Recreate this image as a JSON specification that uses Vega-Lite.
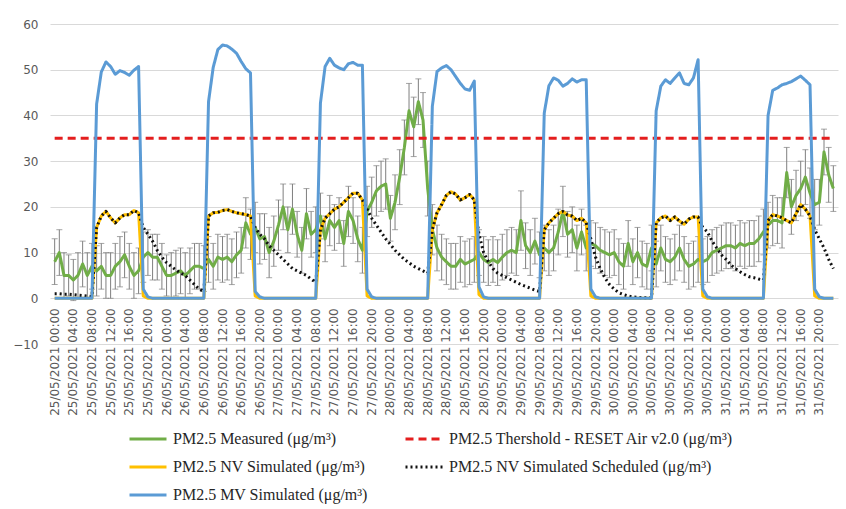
{
"$schema": "https://vega.github.io/schema/vega-lite/v6.json",
"width": 788, "height": 320,
"autosize": {"type": "none"},
"padding": {"left": 50, "top": 24, "right": 8, "bottom": 165},
"background": "white",
"config": {"view": {"stroke": null}, "font": "DejaVu Sans"},
"data": {"values": [
{"t":"2021-05-25T00:00:00Z","measured":8,"lo":3,"hi":13,"nv":0,"nvs":1,"mv":0,"threshold":35},
{"t":"2021-05-25T01:00:00Z","measured":10,"lo":5,"hi":15,"nv":0,"nvs":1,"mv":0,"threshold":35},
{"t":"2021-05-25T02:00:00Z","measured":5,"lo":0,"hi":10,"nv":0,"nvs":0.9,"mv":0,"threshold":35},
{"t":"2021-05-25T03:00:00Z","measured":5,"lo":0.5,"hi":9.5,"nv":0,"nvs":0.9,"mv":0,"threshold":35},
{"t":"2021-05-25T04:00:00Z","measured":4,"lo":-0.5,"hi":8.5,"nv":0,"nvs":0.8,"mv":0,"threshold":35},
{"t":"2021-05-25T05:00:00Z","measured":5,"lo":0,"hi":10,"nv":0,"nvs":0.7,"mv":0,"threshold":35},
{"t":"2021-05-25T06:00:00Z","measured":7.5,"lo":2.5,"hi":12.5,"nv":0,"nvs":0.6,"mv":0,"threshold":35},
{"t":"2021-05-25T07:00:00Z","measured":5,"lo":0,"hi":10,"nv":0,"nvs":0.5,"mv":0,"threshold":35},
{"t":"2021-05-25T08:00:00Z","measured":7,"lo":2,"hi":12,"nv":0,"nvs":0.4,"mv":0,"threshold":35},
{"t":"2021-05-25T09:00:00Z","measured":6,"lo":0.5,"hi":11.5,"nv":15.5,"nvs":15.5,"mv":42.5,"threshold":35},
{"t":"2021-05-25T10:00:00Z","measured":7,"lo":2,"hi":12,"nv":18,"nvs":18,"mv":49.5,"threshold":35},
{"t":"2021-05-25T11:00:00Z","measured":5,"lo":0,"hi":10,"nv":19,"nvs":19,"mv":51.7,"threshold":35},
{"t":"2021-05-25T12:00:00Z","measured":5,"lo":0,"hi":10,"nv":17.6,"nvs":17.6,"mv":50.7,"threshold":35},
{"t":"2021-05-25T13:00:00Z","measured":7,"lo":2,"hi":12,"nv":16.5,"nvs":16.5,"mv":49,"threshold":35},
{"t":"2021-05-25T14:00:00Z","measured":8,"lo":2.5,"hi":13.5,"nv":17.6,"nvs":17.6,"mv":49.8,"threshold":35},
{"t":"2021-05-25T15:00:00Z","measured":9.5,"lo":4.5,"hi":14.5,"nv":18.3,"nvs":18.3,"mv":49.4,"threshold":35},
{"t":"2021-05-25T16:00:00Z","measured":7,"lo":2,"hi":12,"nv":18.3,"nvs":18.3,"mv":48.8,"threshold":35},
{"t":"2021-05-25T17:00:00Z","measured":5,"lo":0,"hi":10,"nv":19.2,"nvs":19.2,"mv":49.9,"threshold":35},
{"t":"2021-05-25T18:00:00Z","measured":6,"lo":1,"hi":11,"nv":18.7,"nvs":18.7,"mv":50.7,"threshold":35},
{"t":"2021-05-25T19:00:00Z","measured":9,"lo":3.5,"hi":14.5,"nv":0.5,"nvs":15.5,"mv":2,"threshold":35},
{"t":"2021-05-25T20:00:00Z","measured":10,"lo":5,"hi":15,"nv":0,"nvs":14,"mv":0.3,"threshold":35},
{"t":"2021-05-25T21:00:00Z","measured":9,"lo":4,"hi":14,"nv":0,"nvs":12.5,"mv":0,"threshold":35},
{"t":"2021-05-25T22:00:00Z","measured":9,"lo":4,"hi":14,"nv":0,"nvs":10.5,"mv":0,"threshold":35},
{"t":"2021-05-25T23:00:00Z","measured":7,"lo":2,"hi":12,"nv":0,"nvs":9,"mv":0,"threshold":35},
{"t":"2021-05-26T00:00:00Z","measured":5,"lo":0.5,"hi":9.5,"nv":0,"nvs":7.8,"mv":0,"threshold":35},
{"t":"2021-05-26T01:00:00Z","measured":5,"lo":0,"hi":10,"nv":0,"nvs":7,"mv":0,"threshold":35},
{"t":"2021-05-26T02:00:00Z","measured":5.5,"lo":0.5,"hi":10.5,"nv":0,"nvs":6.2,"mv":0,"threshold":35},
{"t":"2021-05-26T03:00:00Z","measured":6,"lo":1,"hi":11,"nv":0,"nvs":5.5,"mv":0,"threshold":35},
{"t":"2021-05-26T04:00:00Z","measured":5,"lo":0,"hi":10,"nv":0,"nvs":5,"mv":0,"threshold":35},
{"t":"2021-05-26T05:00:00Z","measured":6,"lo":1,"hi":11,"nv":0,"nvs":4,"mv":0,"threshold":35},
{"t":"2021-05-26T06:00:00Z","measured":7,"lo":2,"hi":12,"nv":0,"nvs":3,"mv":0,"threshold":35},
{"t":"2021-05-26T07:00:00Z","measured":7,"lo":2,"hi":12,"nv":0,"nvs":2,"mv":0,"threshold":35},
{"t":"2021-05-26T08:00:00Z","measured":6.5,"lo":1.5,"hi":11.5,"nv":0,"nvs":1.5,"mv":0,"threshold":35},
{"t":"2021-05-26T09:00:00Z","measured":8.5,"lo":3.5,"hi":13.5,"nv":18,"nvs":18,"mv":43,"threshold":35},
{"t":"2021-05-26T10:00:00Z","measured":7,"lo":2,"hi":12,"nv":18.7,"nvs":18.7,"mv":50.5,"threshold":35},
{"t":"2021-05-26T11:00:00Z","measured":9,"lo":4,"hi":14,"nv":18.8,"nvs":18.8,"mv":54.4,"threshold":35},
{"t":"2021-05-26T12:00:00Z","measured":8.5,"lo":3.5,"hi":13.5,"nv":19.2,"nvs":19.2,"mv":55.4,"threshold":35},
{"t":"2021-05-26T13:00:00Z","measured":9,"lo":4,"hi":14,"nv":19.4,"nvs":19.4,"mv":55.2,"threshold":35},
{"t":"2021-05-26T14:00:00Z","measured":8,"lo":3,"hi":13,"nv":19,"nvs":19,"mv":54.5,"threshold":35},
{"t":"2021-05-26T15:00:00Z","measured":9.5,"lo":4.5,"hi":14.5,"nv":18.7,"nvs":18.7,"mv":53.6,"threshold":35},
{"t":"2021-05-26T16:00:00Z","measured":10.5,"lo":5.5,"hi":15.5,"nv":18.5,"nvs":18.5,"mv":51.8,"threshold":35},
{"t":"2021-05-26T17:00:00Z","measured":16.5,"lo":11,"hi":22,"nv":18.3,"nvs":18.3,"mv":50.2,"threshold":35},
{"t":"2021-05-26T18:00:00Z","measured":14,"lo":8.5,"hi":19.5,"nv":18,"nvs":18,"mv":49.3,"threshold":35},
{"t":"2021-05-26T19:00:00Z","measured":15.5,"lo":10,"hi":21,"nv":0.5,"nvs":15.5,"mv":1.5,"threshold":35},
{"t":"2021-05-26T20:00:00Z","measured":13,"lo":7.5,"hi":18.5,"nv":0,"nvs":14,"mv":0.3,"threshold":35},
{"t":"2021-05-26T21:00:00Z","measured":13.5,"lo":8.5,"hi":18.5,"nv":0,"nvs":13,"mv":0,"threshold":35},
{"t":"2021-05-26T22:00:00Z","measured":10,"lo":4.5,"hi":15.5,"nv":0,"nvs":11.5,"mv":0,"threshold":35},
{"t":"2021-05-26T23:00:00Z","measured":12.5,"lo":7,"hi":18,"nv":0,"nvs":10.5,"mv":0,"threshold":35},
{"t":"2021-05-27T00:00:00Z","measured":16,"lo":10.5,"hi":21.5,"nv":0,"nvs":9.5,"mv":0,"threshold":35},
{"t":"2021-05-27T01:00:00Z","measured":20,"lo":15,"hi":25,"nv":0,"nvs":8.5,"mv":0,"threshold":35},
{"t":"2021-05-27T02:00:00Z","measured":15,"lo":10,"hi":20,"nv":0,"nvs":7.5,"mv":0,"threshold":35},
{"t":"2021-05-27T03:00:00Z","measured":19.5,"lo":14,"hi":25,"nv":0,"nvs":6.5,"mv":0,"threshold":35},
{"t":"2021-05-27T04:00:00Z","measured":14,"lo":9,"hi":19,"nv":0,"nvs":6,"mv":0,"threshold":35},
{"t":"2021-05-27T05:00:00Z","measured":10.5,"lo":5.5,"hi":15.5,"nv":0,"nvs":5.5,"mv":0,"threshold":35},
{"t":"2021-05-27T06:00:00Z","measured":18.5,"lo":13,"hi":24,"nv":0,"nvs":5,"mv":0,"threshold":35},
{"t":"2021-05-27T07:00:00Z","measured":14,"lo":9,"hi":19,"nv":0,"nvs":4.2,"mv":0,"threshold":35},
{"t":"2021-05-27T08:00:00Z","measured":15,"lo":10,"hi":20,"nv":0,"nvs":3.5,"mv":0,"threshold":35},
{"t":"2021-05-27T09:00:00Z","measured":18,"lo":13,"hi":23,"nv":15,"nvs":15,"mv":42.7,"threshold":35},
{"t":"2021-05-27T10:00:00Z","measured":13,"lo":8,"hi":18,"nv":17.5,"nvs":17.5,"mv":50.7,"threshold":35},
{"t":"2021-05-27T11:00:00Z","measured":17,"lo":11.5,"hi":22.5,"nv":18.5,"nvs":18.5,"mv":52.5,"threshold":35},
{"t":"2021-05-27T12:00:00Z","measured":15.5,"lo":10.5,"hi":20.5,"nv":19.5,"nvs":19.5,"mv":51,"threshold":35},
{"t":"2021-05-27T13:00:00Z","measured":17,"lo":12,"hi":22,"nv":20,"nvs":20,"mv":50.4,"threshold":35},
{"t":"2021-05-27T14:00:00Z","measured":12,"lo":7,"hi":17,"nv":21,"nvs":21,"mv":50,"threshold":35},
{"t":"2021-05-27T15:00:00Z","measured":19,"lo":13.5,"hi":24.5,"nv":22,"nvs":22,"mv":51.3,"threshold":35},
{"t":"2021-05-27T16:00:00Z","measured":17,"lo":12,"hi":22,"nv":23,"nvs":23,"mv":51.6,"threshold":35},
{"t":"2021-05-27T17:00:00Z","measured":13,"lo":8,"hi":18,"nv":23,"nvs":23,"mv":51,"threshold":35},
{"t":"2021-05-27T18:00:00Z","measured":10.5,"lo":5.5,"hi":15.5,"nv":21.5,"nvs":21.5,"mv":51,"threshold":35},
{"t":"2021-05-27T19:00:00Z","measured":19,"lo":13.5,"hi":24.5,"nv":0.5,"nvs":19.5,"mv":2,"threshold":35},
{"t":"2021-05-27T20:00:00Z","measured":21,"lo":15.5,"hi":26.5,"nv":0,"nvs":17.5,"mv":0.3,"threshold":35},
{"t":"2021-05-27T21:00:00Z","measured":23.5,"lo":18,"hi":29,"nv":0,"nvs":16,"mv":0,"threshold":35},
{"t":"2021-05-27T22:00:00Z","measured":24.5,"lo":19,"hi":30,"nv":0,"nvs":14.5,"mv":0,"threshold":35},
{"t":"2021-05-27T23:00:00Z","measured":25,"lo":19.5,"hi":30.5,"nv":0,"nvs":13,"mv":0,"threshold":35},
{"t":"2021-05-28T00:00:00Z","measured":17.5,"lo":12.5,"hi":22.5,"nv":0,"nvs":11.8,"mv":0,"threshold":35},
{"t":"2021-05-28T01:00:00Z","measured":21,"lo":15,"hi":27,"nv":0,"nvs":10.5,"mv":0,"threshold":35},
{"t":"2021-05-28T02:00:00Z","measured":26.5,"lo":20.5,"hi":32.5,"nv":0,"nvs":9.5,"mv":0,"threshold":35},
{"t":"2021-05-28T03:00:00Z","measured":33,"lo":27,"hi":39,"nv":0,"nvs":8.5,"mv":0,"threshold":35},
{"t":"2021-05-28T04:00:00Z","measured":41,"lo":35,"hi":47,"nv":0,"nvs":7.8,"mv":0,"threshold":35},
{"t":"2021-05-28T05:00:00Z","measured":37.5,"lo":31,"hi":44,"nv":0,"nvs":7,"mv":0,"threshold":35},
{"t":"2021-05-28T06:00:00Z","measured":43,"lo":38,"hi":48,"nv":0,"nvs":6.5,"mv":0,"threshold":35},
{"t":"2021-05-28T07:00:00Z","measured":39,"lo":33,"hi":45,"nv":0,"nvs":6,"mv":0,"threshold":35},
{"t":"2021-05-28T08:00:00Z","measured":24,"lo":18,"hi":30,"nv":0,"nvs":5.5,"mv":0,"threshold":35},
{"t":"2021-05-28T09:00:00Z","measured":15,"lo":9.5,"hi":20.5,"nv":15,"nvs":15,"mv":42,"threshold":35},
{"t":"2021-05-28T10:00:00Z","measured":11,"lo":6,"hi":16,"nv":18.7,"nvs":18.7,"mv":49.6,"threshold":35},
{"t":"2021-05-28T11:00:00Z","measured":9,"lo":4,"hi":14,"nv":20.5,"nvs":20.5,"mv":50.4,"threshold":35},
{"t":"2021-05-28T12:00:00Z","measured":8,"lo":3,"hi":13,"nv":22.5,"nvs":22.5,"mv":50.9,"threshold":35},
{"t":"2021-05-28T13:00:00Z","measured":7,"lo":2,"hi":12,"nv":23.3,"nvs":23.3,"mv":50,"threshold":35},
{"t":"2021-05-28T14:00:00Z","measured":7,"lo":2,"hi":12,"nv":22.8,"nvs":22.8,"mv":48.5,"threshold":35},
{"t":"2021-05-28T15:00:00Z","measured":8.5,"lo":3.5,"hi":13.5,"nv":21.5,"nvs":21.5,"mv":47,"threshold":35},
{"t":"2021-05-28T16:00:00Z","measured":7.5,"lo":2.5,"hi":12.5,"nv":22,"nvs":22,"mv":45.8,"threshold":35},
{"t":"2021-05-28T17:00:00Z","measured":8,"lo":3,"hi":13,"nv":22.7,"nvs":22.7,"mv":45.5,"threshold":35},
{"t":"2021-05-28T18:00:00Z","measured":8.5,"lo":3.5,"hi":13.5,"nv":21.5,"nvs":21.5,"mv":47.5,"threshold":35},
{"t":"2021-05-28T19:00:00Z","measured":10,"lo":5,"hi":15,"nv":0.8,"nvs":14,"mv":2.5,"threshold":35},
{"t":"2021-05-28T20:00:00Z","measured":8.5,"lo":3.5,"hi":13.5,"nv":0,"nvs":10,"mv":0.3,"threshold":35},
{"t":"2021-05-28T21:00:00Z","measured":7.8,"lo":2.8,"hi":12.8,"nv":0,"nvs":8,"mv":0,"threshold":35},
{"t":"2021-05-28T22:00:00Z","measured":8.5,"lo":3.5,"hi":13.5,"nv":0,"nvs":6.5,"mv":0,"threshold":35},
{"t":"2021-05-28T23:00:00Z","measured":7.8,"lo":2.8,"hi":12.8,"nv":0,"nvs":5.5,"mv":0,"threshold":35},
{"t":"2021-05-29T00:00:00Z","measured":9,"lo":4,"hi":14,"nv":0,"nvs":5,"mv":0,"threshold":35},
{"t":"2021-05-29T01:00:00Z","measured":10,"lo":5,"hi":15,"nv":0,"nvs":4.5,"mv":0,"threshold":35},
{"t":"2021-05-29T02:00:00Z","measured":10.5,"lo":5.5,"hi":15.5,"nv":0,"nvs":4,"mv":0,"threshold":35},
{"t":"2021-05-29T03:00:00Z","measured":10,"lo":5,"hi":15,"nv":0,"nvs":3.5,"mv":0,"threshold":35},
{"t":"2021-05-29T04:00:00Z","measured":17,"lo":10.5,"hi":23.5,"nv":0,"nvs":3,"mv":0,"threshold":35},
{"t":"2021-05-29T05:00:00Z","measured":11.5,"lo":6.5,"hi":16.5,"nv":0,"nvs":2.6,"mv":0,"threshold":35},
{"t":"2021-05-29T06:00:00Z","measured":10,"lo":5,"hi":15,"nv":0,"nvs":2.2,"mv":0,"threshold":35},
{"t":"2021-05-29T07:00:00Z","measured":12.5,"lo":7.5,"hi":17.5,"nv":0,"nvs":1.8,"mv":0,"threshold":35},
{"t":"2021-05-29T08:00:00Z","measured":9.5,"lo":4.5,"hi":14.5,"nv":0,"nvs":1.5,"mv":0,"threshold":35},
{"t":"2021-05-29T09:00:00Z","measured":11,"lo":6,"hi":16,"nv":15,"nvs":15,"mv":40.5,"threshold":35},
{"t":"2021-05-29T10:00:00Z","measured":10,"lo":5,"hi":15,"nv":16.5,"nvs":16.5,"mv":46.5,"threshold":35},
{"t":"2021-05-29T11:00:00Z","measured":11,"lo":6,"hi":16,"nv":17.5,"nvs":17.5,"mv":48.2,"threshold":35},
{"t":"2021-05-29T12:00:00Z","measured":14.5,"lo":9.5,"hi":19.5,"nv":18.5,"nvs":18.5,"mv":47.7,"threshold":35},
{"t":"2021-05-29T13:00:00Z","measured":19,"lo":13.5,"hi":24.5,"nv":19,"nvs":19,"mv":46.4,"threshold":35},
{"t":"2021-05-29T14:00:00Z","measured":14,"lo":9,"hi":19,"nv":18.2,"nvs":18.2,"mv":47,"threshold":35},
{"t":"2021-05-29T15:00:00Z","measured":15,"lo":10,"hi":20,"nv":18,"nvs":18,"mv":48,"threshold":35},
{"t":"2021-05-29T16:00:00Z","measured":11,"lo":6,"hi":16,"nv":17,"nvs":17,"mv":47.3,"threshold":35},
{"t":"2021-05-29T17:00:00Z","measured":14.5,"lo":9.5,"hi":19.5,"nv":17.5,"nvs":17.5,"mv":47.8,"threshold":35},
{"t":"2021-05-29T18:00:00Z","measured":11,"lo":6,"hi":16,"nv":16.5,"nvs":16.5,"mv":47.8,"threshold":35},
{"t":"2021-05-29T19:00:00Z","measured":12,"lo":7,"hi":17,"nv":0.5,"nvs":13,"mv":2,"threshold":35},
{"t":"2021-05-29T20:00:00Z","measured":11.5,"lo":6.5,"hi":16.5,"nv":0,"nvs":9,"mv":0.3,"threshold":35},
{"t":"2021-05-29T21:00:00Z","measured":10.5,"lo":5.5,"hi":15.5,"nv":0,"nvs":6.5,"mv":0,"threshold":35},
{"t":"2021-05-29T22:00:00Z","measured":10,"lo":5,"hi":15,"nv":0,"nvs":4.5,"mv":0,"threshold":35},
{"t":"2021-05-29T23:00:00Z","measured":9.5,"lo":4.5,"hi":14.5,"nv":0,"nvs":3,"mv":0,"threshold":35},
{"t":"2021-05-30T00:00:00Z","measured":10,"lo":5,"hi":15,"nv":0,"nvs":2,"mv":0,"threshold":35},
{"t":"2021-05-30T01:00:00Z","measured":8,"lo":3,"hi":13,"nv":0,"nvs":1.2,"mv":0,"threshold":35},
{"t":"2021-05-30T02:00:00Z","measured":7,"lo":2,"hi":12,"nv":0,"nvs":0.8,"mv":0,"threshold":35},
{"t":"2021-05-30T03:00:00Z","measured":12,"lo":7,"hi":17,"nv":0,"nvs":0.5,"mv":0,"threshold":35},
{"t":"2021-05-30T04:00:00Z","measured":8,"lo":3,"hi":13,"nv":0,"nvs":0.3,"mv":0,"threshold":35},
{"t":"2021-05-30T05:00:00Z","measured":10,"lo":4.5,"hi":15.5,"nv":0,"nvs":0.2,"mv":0,"threshold":35},
{"t":"2021-05-30T06:00:00Z","measured":7.5,"lo":2.5,"hi":12.5,"nv":0,"nvs":0.1,"mv":0,"threshold":35},
{"t":"2021-05-30T07:00:00Z","measured":7,"lo":2,"hi":12,"nv":0,"nvs":0.1,"mv":0,"threshold":35},
{"t":"2021-05-30T08:00:00Z","measured":11,"lo":6,"hi":16,"nv":0,"nvs":0.1,"mv":0,"threshold":35},
{"t":"2021-05-30T09:00:00Z","measured":7.5,"lo":2.5,"hi":12.5,"nv":16.5,"nvs":16.5,"mv":41,"threshold":35},
{"t":"2021-05-30T10:00:00Z","measured":11,"lo":6,"hi":16,"nv":17.6,"nvs":17.6,"mv":46.4,"threshold":35},
{"t":"2021-05-30T11:00:00Z","measured":8.5,"lo":3.5,"hi":13.5,"nv":18,"nvs":18,"mv":47.8,"threshold":35},
{"t":"2021-05-30T12:00:00Z","measured":8,"lo":3,"hi":13,"nv":17,"nvs":17,"mv":47,"threshold":35},
{"t":"2021-05-30T13:00:00Z","measured":9,"lo":4,"hi":14,"nv":17.8,"nvs":17.8,"mv":48.2,"threshold":35},
{"t":"2021-05-30T14:00:00Z","measured":11,"lo":6,"hi":16,"nv":16.9,"nvs":16.9,"mv":49.3,"threshold":35},
{"t":"2021-05-30T15:00:00Z","measured":8.5,"lo":3.5,"hi":13.5,"nv":16.2,"nvs":16.2,"mv":47,"threshold":35},
{"t":"2021-05-30T16:00:00Z","measured":7,"lo":2,"hi":12,"nv":17.3,"nvs":17.3,"mv":46.7,"threshold":35},
{"t":"2021-05-30T17:00:00Z","measured":7.5,"lo":2.5,"hi":12.5,"nv":17.8,"nvs":17.8,"mv":48.2,"threshold":35},
{"t":"2021-05-30T18:00:00Z","measured":8.5,"lo":3.5,"hi":13.5,"nv":17.8,"nvs":17.8,"mv":52.2,"threshold":35},
{"t":"2021-05-30T19:00:00Z","measured":8,"lo":3,"hi":13,"nv":0.5,"nvs":15.5,"mv":2,"threshold":35},
{"t":"2021-05-30T20:00:00Z","measured":8.5,"lo":3.5,"hi":13.5,"nv":0,"nvs":14.5,"mv":0.3,"threshold":35},
{"t":"2021-05-30T21:00:00Z","measured":10,"lo":5,"hi":15,"nv":0,"nvs":12.5,"mv":0,"threshold":35},
{"t":"2021-05-30T22:00:00Z","measured":10.5,"lo":5.5,"hi":15.5,"nv":0,"nvs":11,"mv":0,"threshold":35},
{"t":"2021-05-30T23:00:00Z","measured":11,"lo":6,"hi":16,"nv":0,"nvs":9.5,"mv":0,"threshold":35},
{"t":"2021-05-31T00:00:00Z","measured":11.5,"lo":6.5,"hi":16.5,"nv":0,"nvs":8.5,"mv":0,"threshold":35},
{"t":"2021-05-31T01:00:00Z","measured":11.5,"lo":6.5,"hi":16.5,"nv":0,"nvs":7.3,"mv":0,"threshold":35},
{"t":"2021-05-31T02:00:00Z","measured":11,"lo":6,"hi":16,"nv":0,"nvs":6.5,"mv":0,"threshold":35},
{"t":"2021-05-31T03:00:00Z","measured":12,"lo":7,"hi":17,"nv":0,"nvs":5.8,"mv":0,"threshold":35},
{"t":"2021-05-31T04:00:00Z","measured":11.5,"lo":6.5,"hi":16.5,"nv":0,"nvs":5.2,"mv":0,"threshold":35},
{"t":"2021-05-31T05:00:00Z","measured":12,"lo":7,"hi":17,"nv":0,"nvs":4.7,"mv":0,"threshold":35},
{"t":"2021-05-31T06:00:00Z","measured":12,"lo":7,"hi":17,"nv":0,"nvs":4.5,"mv":0,"threshold":35},
{"t":"2021-05-31T07:00:00Z","measured":13,"lo":8,"hi":18,"nv":0,"nvs":4.2,"mv":0,"threshold":35},
{"t":"2021-05-31T08:00:00Z","measured":14.5,"lo":9.5,"hi":19.5,"nv":0,"nvs":4,"mv":0,"threshold":35},
{"t":"2021-05-31T09:00:00Z","measured":16,"lo":11,"hi":21,"nv":17,"nvs":17,"mv":40,"threshold":35},
{"t":"2021-05-31T10:00:00Z","measured":17,"lo":11.5,"hi":22.5,"nv":18.3,"nvs":18.3,"mv":45.5,"threshold":35},
{"t":"2021-05-31T11:00:00Z","measured":17,"lo":12,"hi":22,"nv":18,"nvs":18,"mv":46,"threshold":35},
{"t":"2021-05-31T12:00:00Z","measured":16.5,"lo":11,"hi":22,"nv":17.6,"nvs":17.6,"mv":46.7,"threshold":35},
{"t":"2021-05-31T13:00:00Z","measured":27.5,"lo":22,"hi":33,"nv":17,"nvs":17,"mv":47,"threshold":35},
{"t":"2021-05-31T14:00:00Z","measured":20,"lo":14,"hi":26,"nv":16.5,"nvs":16.5,"mv":47.4,"threshold":35},
{"t":"2021-05-31T15:00:00Z","measured":22.5,"lo":17,"hi":28,"nv":18.5,"nvs":18.5,"mv":48,"threshold":35},
{"t":"2021-05-31T16:00:00Z","measured":24,"lo":18,"hi":30,"nv":20.5,"nvs":20.5,"mv":48.6,"threshold":35},
{"t":"2021-05-31T17:00:00Z","measured":26.5,"lo":20.5,"hi":32.5,"nv":19.5,"nvs":19.5,"mv":47.7,"threshold":35},
{"t":"2021-05-31T18:00:00Z","measured":23,"lo":17.5,"hi":28.5,"nv":18,"nvs":18,"mv":46.7,"threshold":35},
{"t":"2021-05-31T19:00:00Z","measured":20.5,"lo":15,"hi":26,"nv":0.5,"nvs":15,"mv":2,"threshold":35},
{"t":"2021-05-31T20:00:00Z","measured":21,"lo":16,"hi":26,"nv":0,"nvs":13,"mv":0.3,"threshold":35},
{"t":"2021-05-31T21:00:00Z","measured":32,"lo":27,"hi":37,"nv":0,"nvs":11,"mv":0,"threshold":35},
{"t":"2021-05-31T22:00:00Z","measured":27,"lo":21,"hi":33,"nv":0,"nvs":8.5,"mv":0,"threshold":35},
{"t":"2021-05-31T23:00:00Z","measured":24,"lo":19,"hi":29,"nv":0,"nvs":6.5,"mv":0,"threshold":35}
]},
"layer": [
  {"mark": {"type": "rule", "color": "#7F7F7F", "strokeWidth": 1},
   "encoding": {
     "x": {"field": "t", "type": "temporal",
       "scale": {"domain": [1621897200000, 1622505600000], "nice": false},
       "axis": null},
     "y": {"field": "lo", "type": "quantitative", "scale": {"domain": [-10, 60], "nice": false},
       "axis": {"title": null, "values": [-10, 0, 10, 20, 30, 40, 50, 60], "grid": true, "gridColor": "#D9D9D9", "domain": false, "ticks": false, "labelFontSize": 12, "labelColor": "#595959", "labelPadding": 12}},
     "y2": {"field": "hi"}}},
  {"transform": [{"fold": ["lo", "hi"], "as": ["end", "ev"]}],
   "mark": {"type": "tick", "orient": "horizontal", "color": "#7F7F7F", "thickness": 1, "size": 6},
   "encoding": {
     "x": {"field": "t", "type": "temporal", "axis": null},
     "y": {"field": "ev", "type": "quantitative"}}},
  {"transform": [{"fold": ["measured", "threshold", "nv", "nvs", "mv"], "as": ["series", "value"]}],
   "mark": {"type": "line", "strokeJoin": "round", "strokeWidth": 3},
   "encoding": {
     "x": {"field": "t", "type": "temporal", "axis": null},
     "y": {"field": "value", "type": "quantitative"},
     "color": {"field": "series", "type": "nominal",
       "scale": {"domain": ["measured", "nv", "mv", "threshold", "nvs"], "range": ["#70AD47", "#FFC000", "#5B9BD5", "#E41E1E", "#111111"]},
       "legend": {"orient": "none", "legendX": 78, "legendY": 395, "columns": 2, "title": null,
         "symbolType": "stroke", "symbolSize": 1369, "symbolStrokeWidth": 3,
         "labelFont": "Liberation Serif", "labelFontSize": 16, "labelColor": "#262626",
         "labelLimit": 500, "rowPadding": -3.5, "columnPadding": 31, "labelOffset": 5,
         "labelExpr": "datum.value == 'measured' ? 'PM2.5 Measured (μg/m³)' : datum.value == 'threshold' ? 'PM2.5 Thershold - RESET Air v2.0  (μg/m³)' : datum.value == 'nv' ? 'PM2.5 NV Simulated (μg/m³)' : datum.value == 'nvs' ? 'PM2.5 NV Simulated Scheduled (μg/m³)' : 'PM2.5 MV Simulated (μg/m³)'"}},
     "strokeDash": {"field": "series", "type": "nominal",
       "scale": {"domain": ["measured", "nv", "mv", "threshold", "nvs"], "range": [[1, 0], [1, 0], [1, 0], [8, 5], [2, 3]]}}
   }},
  {"transform": [{"filter": "utchours(toDate(datum.t)) % 4 == 0"}],
   "mark": {"type": "text", "angle": 270, "align": "right", "baseline": "middle", "dx": -10, "font": "DejaVu Sans", "fontSize": 12, "color": "#595959"},
   "encoding": {
     "x": {"field": "t", "type": "temporal", "axis": null},
     "y": {"datum": 0, "type": "quantitative"},
     "text": {"field": "t", "type": "temporal", "format": "%d/%m/%Y %H:%M"}}}
]
}
